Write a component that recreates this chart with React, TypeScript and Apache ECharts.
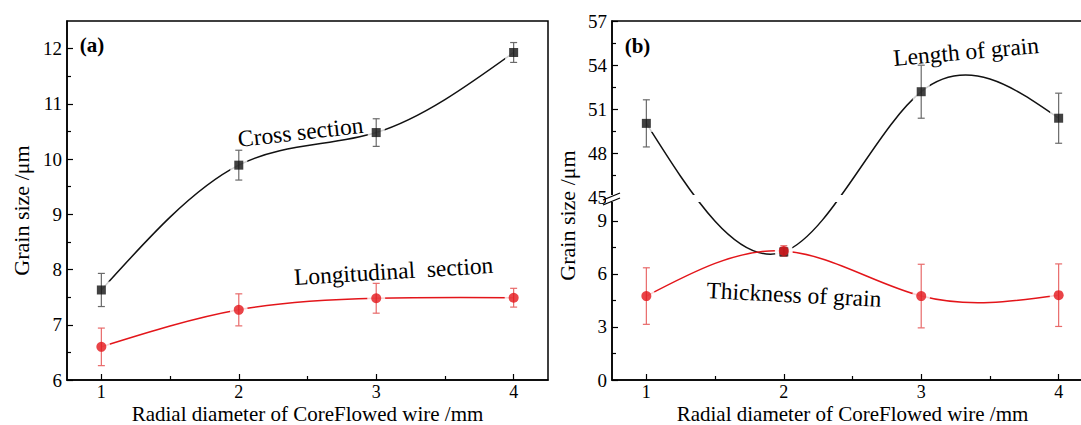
import React, { useEffect, useRef } from "react";
import * as echarts from "echarts";

// ---------- data ----------
const xTicks = [1, 2, 3, 4];
const xMinor = [1.5, 2.5, 3.5];

// panel (a)
const crossSection = [7.63, 9.89, 10.48, 11.93];
const crossErr = [0.3, 0.27, 0.25, 0.18];
const longSection = [6.6, 7.27, 7.48, 7.49];
const longErr = [0.34, 0.29, 0.27, 0.17];
const leftYTicks = [6, 7, 8, 9, 10, 11, 12];
const leftYMinor = [6.5, 7.5, 8.5, 9.5, 10.5, 11.5];

// panel (b)
const grainLength = [50.05, 7.25, 52.2, 50.4];
const lengthErr = [1.6, 0.25, 1.8, 1.7];
const grainThick = [4.75, 7.3, 4.75, 4.8];
const thickErr = [1.6, 0.3, 1.8, 1.77];
const rightYLow = [0, 3, 6, 9];
const rightYLowMinor = [1.5, 4.5, 7.5];
const rightYHigh = [45, 48, 51, 54, 57];
const rightYHighMinor = [46.5, 49.5, 52.5, 55.5];

// ---------- styling / layout ----------
const SERIF = "'Liberation Serif', 'Times New Roman', serif";
const BLACK = "#111111";
const RED = "#e3151a";
const RED_ERR = "#e86a6a";
const GRAY_ERR = "#6a6a6a";

const PLOT_TOP = 21;
const PLOT_H = 359;

// broken axis (b): virtual pixel-linear coordinate
const LOW_PX = 17.67; // px per unit, lower segment 0..9
const HIGH_PX = 14.73; // px per unit, upper segment 45..57
const HIGH_TOP = 57;
const toV = (y: number) => (y < 25 ? y * LOW_PX : PLOT_H - (HIGH_TOP - y) * HIGH_PX);
const fromV = (v: number) =>
  v < 170 ? Math.round(v / LOW_PX) : Math.round(HIGH_TOP - (PLOT_H - v) / HIGH_PX);

const mainX = (grid: number) => ({
  type: "value",
  gridIndex: grid,
  min: 0.75,
  max: 4.25,
  axisLine: { show: true, lineStyle: { color: "#000", width: 1.5 } },
  axisTick: { show: true, inside: true, length: 6, customValues: xTicks, lineStyle: { color: "#000", width: 1.2 } },
  axisLabel: { show: true, customValues: xTicks, margin: 3, fontSize: 18, lineHeight: 18, color: "#000", fontFamily: SERIF },
  splitLine: { show: false },
  name: "Radial diameter of CoreFlowed wire /mm",
  nameLocation: "middle",
  nameGap: 24,
  nameMoveOverlap: false,
  nameTextStyle: { fontSize: 21, lineHeight: 20, color: "#000", fontFamily: SERIF },
});
const minorX = (grid: number) => ({
  type: "value",
  gridIndex: grid,
  min: 0.75,
  max: 4.25,
  position: "bottom",
  axisLine: { show: false },
  axisTick: { show: true, inside: true, length: 4, customValues: xMinor, lineStyle: { color: "#000", width: 1.2 } },
  axisLabel: { show: false },
  splitLine: { show: false },
});

const errRender = (color: string) => (params: any, api: any) => {
  const x = api.value(0);
  const lo = api.value(1);
  const hi = api.value(2);
  const p1 = api.coord([x, hi]);
  const p2 = api.coord([x, lo]);
  const w = 3.5;
  const st = { stroke: color, lineWidth: 1.2 };
  return {
    type: "group",
    children: [
      { type: "line", shape: { x1: p1[0], y1: p1[1], x2: p2[0], y2: p2[1] }, style: st },
      { type: "line", shape: { x1: p1[0] - w, y1: p1[1], x2: p1[0] + w, y2: p1[1] }, style: st },
      { type: "line", shape: { x1: p2[0] - w, y1: p2[1], x2: p2[0] + w, y2: p2[1] }, style: st },
    ],
  };
};

// natural cubic spline second derivatives for uniformly spaced samples
function naturalM(Y: number[]): number[] {
  const n = Y.length;
  const M = new Array(n).fill(0);
  if (n < 3) return M;
  const m = n - 2;
  const a: number[] = [], b: number[] = [], c: number[] = [], d: number[] = [];
  for (let k = 0; k < m; k++) {
    a.push(1);
    b.push(4);
    c.push(1);
    d.push(6 * (Y[k] - 2 * Y[k + 1] + Y[k + 2]));
  }
  for (let k = 1; k < m; k++) {
    const w = a[k] / b[k - 1];
    b[k] -= w * c[k - 1];
    d[k] -= w * d[k - 1];
  }
  const sol = new Array(m).fill(0);
  sol[m - 1] = d[m - 1] / b[m - 1];
  for (let k = m - 2; k >= 0; k--) sol[k] = (d[k] - c[k] * sol[k + 1]) / b[k];
  for (let k = 0; k < m; k++) M[k + 1] = sol[k];
  return M;
}

const splineRender = (pts: number[][], color: string) => (params: any, api: any) => {
  const i = params.dataIndex;
  if (i >= pts.length - 1) return null;
  const P = pts.map((p) => api.coord(p));
  const Y = P.map((p) => p[1]);
  const M = naturalM(Y);
  const dy = Y[i + 1] - Y[i];
  const d0 = dy - (2 * M[i] + M[i + 1]) / 6;
  const d1 = dy + (M[i] + 2 * M[i + 1]) / 6;
  const x0 = P[i][0];
  const x1 = P[i + 1][0];
  return {
    type: "bezierCurve",
    shape: {
      x1: x0,
      y1: Y[i],
      x2: x1,
      y2: Y[i + 1],
      cpx1: x0 + (x1 - x0) / 3,
      cpy1: Y[i] + d0 / 3,
      cpx2: x1 - (x1 - x0) / 3,
      cpy2: Y[i + 1] - d1 / 3,
    },
    style: { stroke: color, fill: "none", lineWidth: 1.5 },
  };
};

function seriesSet(
  name: string,
  values: number[],
  errs: number[],
  color: string,
  errColor: string,
  symbol: string,
  size: number,
  axis: number,
  tf: (y: number) => number
) {
  const pts = xTicks.map((x, i) => [x, tf(values[i])]);
  const errData = xTicks.map((x, i) => [x, tf(values[i] - errs[i]), tf(values[i] + errs[i])]);
  const common = { xAxisIndex: axis, yAxisIndex: axis };
  return [
    {
      ...common,
      name,
      type: "custom",
      data: pts,
      encode: { x: 0, y: 1 },
      renderItem: splineRender(pts, color),
      silent: true,
      z: 2,
    },
    {
      ...common,
      type: "scatter",
      data: pts,
      symbol,
      symbolSize: size + 8,
      itemStyle: { color: "#fff" },
      silent: true,
      z: 3,
    },
    {
      ...common,
      type: "custom",
      data: errData,
      encode: { x: 0, y: [1, 2] },
      renderItem: errRender(errColor),
      z: 4,
    },
    {
      ...common,
      name,
      type: "scatter",
      data: pts,
      symbol,
      symbolSize: size,
      itemStyle: { color },
      z: 5,
    },
  ];
}

const ident = (y: number) => y;

const textStyle = (size: number, bold = false) => ({
  fontSize: size,
  fontFamily: SERIF,
  fontWeight: bold ? "bold" : "normal",
  fill: "#000",
  textAlign: "center",
  textVerticalAlign: "middle",
});

const gridBase = {
  top: PLOT_TOP,
  width: 481,
  height: PLOT_H,
  show: true,
  borderColor: "#000",
  borderWidth: 1.5,
  backgroundColor: "transparent",
  outerBoundsMode: "none",
  containLabel: false,
};

export default function App() {
  const ref = useRef<HTMLDivElement>(null);
  useEffect(() => {
    if (!ref.current) return;
    const chart = echarts.init(ref.current, undefined, { renderer: "svg" });
    const rightTicks = [...rightYLow, ...rightYHigh].map(toV);
    const option: any = {
      animation: false,
      backgroundColor: "#fff",
      grid: [
        { ...gridBase, left: 67 },
        { ...gridBase, left: 612 },
      ],
      xAxis: [mainX(0), minorX(0), mainX(1), minorX(1)],
      yAxis: [
        {
          type: "value",
          gridIndex: 0,
          position: "left",
          min: 6,
          max: 12.5,
          axisLine: { show: true, lineStyle: { color: "#000", width: 1.5 } },
          axisTick: { show: true, inside: true, length: 6, customValues: leftYTicks, lineStyle: { color: "#000", width: 1.2 } },
          axisLabel: { show: true, customValues: leftYTicks, margin: 5, fontSize: 19, color: "#000", fontFamily: SERIF },
          splitLine: { show: false },
          name: "Grain size /\u03bcm",
          nameLocation: "middle",
          nameGap: 35,
          nameTextStyle: { fontSize: 22, color: "#000", fontFamily: SERIF, padding: [0, 20, 0, 0] },
        },
        {
          type: "value",
          gridIndex: 0,
          position: "left",
          min: 6,
          max: 12.5,
          axisLine: { show: false },
          axisTick: { show: true, inside: true, length: 4, customValues: leftYMinor, lineStyle: { color: "#000", width: 1.2 } },
          axisLabel: { show: false },
          splitLine: { show: false },
        },
        {
          type: "value",
          gridIndex: 1,
          position: "left",
          min: 0,
          max: PLOT_H,
          axisLine: { show: true, lineStyle: { color: "#000", width: 1.5 } },
          axisTick: { show: true, inside: true, length: 6, customValues: rightTicks, lineStyle: { color: "#000", width: 1.2 } },
          axisLabel: {
            show: true,
            customValues: rightTicks,
            formatter: (v: number) => String(fromV(v)),
            margin: 5,
            fontSize: 19,
            color: "#000",
            fontFamily: SERIF,
          },
          splitLine: { show: false },
          name: "Grain size /\u03bcm",
          nameLocation: "middle",
          nameGap: 34,
          nameTextStyle: { fontSize: 22, color: "#000", fontFamily: SERIF, padding: [0, 30, 0, 0] },
        },
        {
          type: "value",
          gridIndex: 1,
          position: "left",
          min: 0,
          max: PLOT_H,
          axisLine: { show: false },
          axisTick: {
            show: true,
            inside: true,
            length: 4,
            customValues: [...rightYLowMinor, ...rightYHighMinor].map(toV),
            lineStyle: { color: "#000", width: 1.2 },
          },
          axisLabel: { show: false },
          splitLine: { show: false },
        },
      ],
      series: [
        ...seriesSet("Cross section", crossSection, crossErr, BLACK, GRAY_ERR, "rect", 9, 0, ident),
        ...seriesSet("Longitudinal section", longSection, longErr, RED, RED_ERR, "circle", 10, 0, ident),
        ...seriesSet("Length of grain", grainLength, lengthErr, BLACK, GRAY_ERR, "rect", 9, 2, toV),
        ...seriesSet("Thickness of grain", grainThick, thickErr, RED, RED_ERR, "circle", 10, 2, toV),
      ],
      graphic: [
        // axis break on panel (b)
        { type: "rect", shape: { x: 606, y: 195, width: 480, height: 7 }, style: { fill: "#fff" }, z: 50 },
        { type: "line", shape: { x1: 603, y1: 200, x2: 620, y2: 193 }, style: { stroke: "#000", lineWidth: 1.3 }, z: 51 },
        { type: "line", shape: { x1: 603, y1: 205, x2: 620, y2: 198 }, style: { stroke: "#000", lineWidth: 1.3 }, z: 51 },
        // panel labels
        { type: "text", x: 92, y: 45, style: { ...textStyle(21, true), text: "(a)" }, z: 60 },
        { type: "text", x: 637.5, y: 45.5, style: { ...textStyle(21, true), text: "(b)" }, z: 60 },
        // curve annotations
        { type: "text", x: 300.5, y: 132, rotation: 0.114, style: { ...textStyle(23.5), text: "Cross section" }, z: 60 },
        { type: "text", x: 393.5, y: 271, rotation: 0.061, style: { ...textStyle(23.5), text: "Longitudinal  section" }, z: 60 },
        { type: "text", x: 966, y: 51.5, rotation: 0.09, style: { ...textStyle(23.5), text: "Length of grain" }, z: 60 },
        { type: "text", x: 794, y: 294.5, rotation: -0.05, style: { ...textStyle(23.5), text: "Thickness of grain" }, z: 60 },
      ],
    };
    chart.setOption(option);
    return () => chart.dispose();
  }, []);
  return (
    <div style={{ position: "fixed", left: 0, top: 0, width: 1081, height: 425, overflow: "hidden", background: "#fff" }}>
      <div ref={ref} style={{ width: 1081, height: 425 }} />
    </div>
  );
}
